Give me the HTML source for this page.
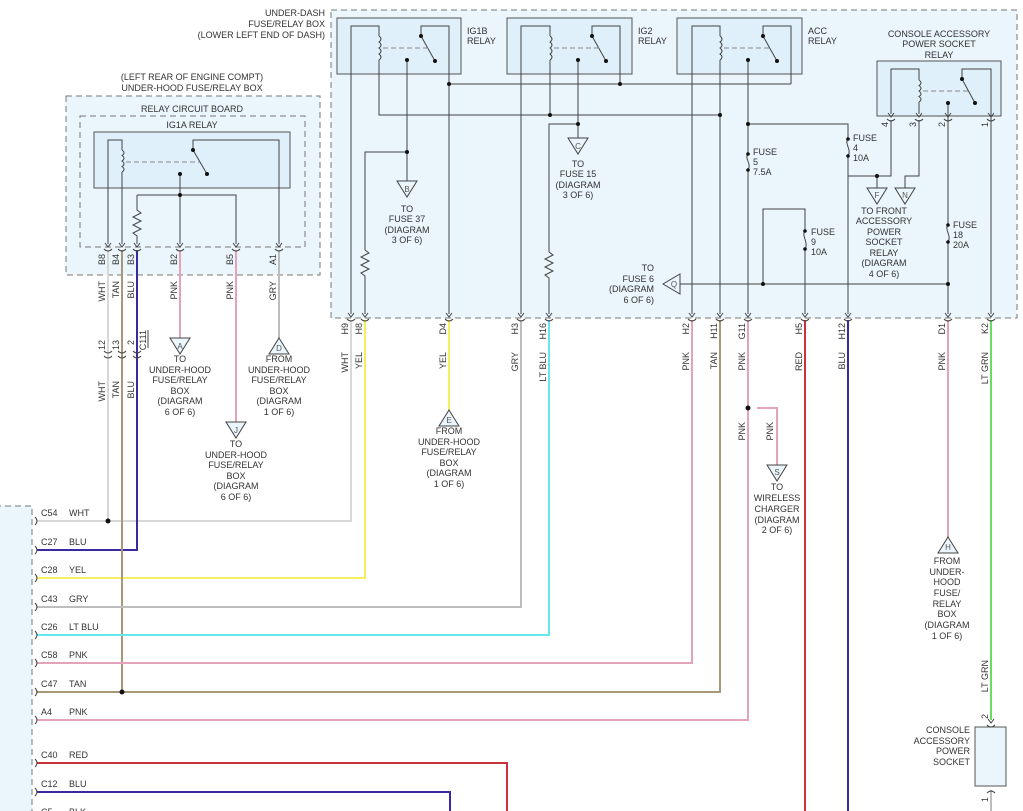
<!DOCTYPE html>
<html><head><meta charset="utf-8"><style>
html,body{margin:0;padding:0;background:#fff}
svg{display:block;font-family:"Liberation Sans",sans-serif;font-size:9px;fill:#333}
</style></head><body>
<svg width="1023" height="811" viewBox="0 0 1023 811" xmlns="http://www.w3.org/2000/svg">
<defs>
<g id="cv"><polyline points="-3,-5 0,-1 3,-5" fill="none" stroke="#444" stroke-width="1"/><path d="M-4,1 Q0,5 4,1" fill="none" stroke="#444" stroke-width="1"/></g>
<g id="lp"><path d="M0,-4 Q4,0 0,4" fill="none" stroke="#444" stroke-width="1"/></g>
</defs>
<g fill="none">
<rect x="331" y="10" width="686" height="308" fill="#eaf5fc" stroke="#777" stroke-dasharray="6,4"/>
<rect x="66" y="96" width="254" height="179" fill="#eaf5fc" stroke="#777" stroke-dasharray="6,4"/>
<rect x="80" y="116" width="225" height="131" fill="#eaf5fc" stroke="#777" stroke-dasharray="6,4"/>
<rect x="94" y="132" width="196" height="56" fill="#dff0fb" stroke="#555"/>
<rect x="-5" y="506" width="37" height="320" fill="#eaf5fc" stroke="#777" stroke-dasharray="6,4"/>
<rect x="337" y="18" width="124" height="56" fill="#dff0fb" stroke="#555"/>
<rect x="507" y="18" width="125" height="56" fill="#dff0fb" stroke="#555"/>
<rect x="677" y="18" width="125" height="56" fill="#dff0fb" stroke="#555"/>
<rect x="877" y="61" width="124" height="55" fill="#dff0fb" stroke="#555"/>
<rect x="975" y="727" width="31" height="59" fill="#eaf5fc" stroke="#555"/>
</g>

<g fill="none" stroke-width="2">
<polyline points="351,320 351,521 37,521" stroke="#d8d8d8"/>
<polyline points="365,320 365,578 37,578" stroke="#f6f060"/>
<polyline points="137,250 137,550 37,550" stroke="#3a2aa0"/>
<polyline points="122,250 122,692" stroke="#a8987a"/>
<polyline points="108,250 108,521" stroke="#d8d8d8"/>
<polyline points="521,320 521,607 37,607" stroke="#bdbdbd"/>
<polyline points="549,320 549,635 37,635" stroke="#66e6ee"/>
<polyline points="692,320 692,663 37,663" stroke="#e3a3bb"/>
<polyline points="720,320 720,692 37,692" stroke="#a8987a"/>
<polyline points="748,320 748,720 37,720" stroke="#e3a3bb"/>
<polyline points="757,408 777,408 777,465" stroke="#e3a3bb"/>
<polyline points="37,763 507,763 507,811" stroke="#c8323f"/>
<polyline points="37,792 450,792 450,811" stroke="#3a2aa0"/>
<polyline points="805,320 805,811" stroke="#c8323f"/>
<polyline points="848,320 848,811" stroke="#3a2aa0"/>
<polyline points="948,320 948,537" stroke="#e3a3bb"/>
<polyline points="991,320 991,720" stroke="#66dd66"/>
<polyline points="991,790 991,811" stroke="#bdbdbd"/>
<polyline points="449,320 449,410" stroke="#f6f060"/>
<polyline points="180,250 180,338" stroke="#e3a3bb"/>
<polyline points="236,250 236,422" stroke="#e3a3bb"/>
<polyline points="279,250 279,338" stroke="#bdbdbd"/>
</g>

<g fill="none" stroke="#444" stroke-width="1">
<polyline points="351,314 351,26 379,26 379,36"/>
<polyline points="379,60 379,115 720,115"/>
<polyline points="421,36 421,26 449,26 449,314"/>
<line x1="421" y1="36" x2="435" y2="61"/>
<line x1="383" y1="48" x2="428" y2="48" stroke-dasharray="5,3" stroke="#888"/>
<polyline points="407,60 407,181"/>
<polyline points="407,152 365,152 365,250"/>
<polyline points="365,250 369,253 361,257 369,261 361,265 369,269 361,273 365,276 365,314"/>
<line x1="449" y1="84" x2="791" y2="84"/>
<polyline points="521,314 521,26 550,26 550,36"/>
<polyline points="550,60 550,115"/>
<polyline points="592,36 592,26 620,26 620,84"/>
<line x1="592" y1="36" x2="606" y2="61"/>
<line x1="554" y1="48" x2="600" y2="48" stroke-dasharray="5,3" stroke="#888"/>
<polyline points="578,60 578,138"/>
<polyline points="578,124 549,124 549,252"/>
<polyline points="549,252 553,255 545,259 553,263 545,267 553,271 545,275 549,278 549,314"/>
<polyline points="692,314 692,26 720,26 720,36"/>
<polyline points="720,60 720,314"/>
<polyline points="763,36 763,26 791,26 791,84"/>
<line x1="763" y1="36" x2="777" y2="61"/>
<line x1="724" y1="48" x2="770" y2="48" stroke-dasharray="5,3" stroke="#888"/>
<polyline points="748,60 748,154"/>
<path d="M748,154 C744,158 752,164 748,170"/>
<polyline points="748,170 748,314"/>
<polyline points="748,124 848,124 848,139"/>
<path d="M848,139 C844,143 852,150 848,156"/>
<polyline points="848,156 848,314"/>
<polyline points="848,176 891,176 891,120"/>
<line x1="877" y1="176" x2="877" y2="188"/>
<polyline points="905,188 905,176 919,176 919,120"/>
<polyline points="891,114 891,69 919,69 919,80"/>
<polyline points="919,102 919,114"/>
<polyline points="962,79 962,69 991,69 991,314"/>
<line x1="962" y1="79" x2="975" y2="103"/>
<line x1="923" y1="91" x2="968" y2="91" stroke-dasharray="5,3" stroke="#888"/>
<polyline points="948,103 948,225"/>
<path d="M948,225 C944,229 952,236 948,242"/>
<polyline points="948,242 948,314"/>
<polyline points="680,284 948,284"/>
<polyline points="763,284 763,209 805,209 805,231"/>
<path d="M805,231 C801,235 809,243 805,249"/>
<polyline points="805,249 805,314"/>
<polyline points="108,244 108,140 122,140 122,150"/>
<polyline points="122,172 122,244"/>
<polyline points="193,150 193,140 279,140 279,244"/>
<line x1="193" y1="150" x2="207" y2="174"/>
<line x1="126" y1="162" x2="200" y2="162" stroke-dasharray="5,3" stroke="#888"/>
<polyline points="180,174 180,244"/>
<polyline points="137,195 236,195 236,244"/>
<polyline points="137,195 137,210 141,213 133,217 141,221 133,225 141,229 133,233 137,236 137,244"/>
</g>
<g fill="none" stroke="#444" stroke-width="1">
<path d="M379,36 q4,3 0,6 q4,3 0,6 q4,3 0,6 q4,3 0,6"/>
<path d="M550,36 q4,3 0,6 q4,3 0,6 q4,3 0,6 q4,3 0,6"/>
<path d="M720,36 q4,3 0,6 q4,3 0,6 q4,3 0,6 q4,3 0,6"/>
<path d="M919,80 q4,3 0,5.5 q4,3 0,5.5 q4,3 0,5.5 q4,3 0,5.5"/>
<path d="M122,150 q4,3 0,5.5 q4,3 0,5.5 q4,3 0,5.5 q4,3 0,5.5"/>
</g>
<g fill="#111">
<circle cx="421" cy="36" r="2"/><circle cx="435" cy="61" r="2"/><circle cx="407" cy="60" r="2"/>
<circle cx="592" cy="36" r="2"/><circle cx="606" cy="61" r="2"/><circle cx="578" cy="60" r="2"/>
<circle cx="763" cy="36" r="2"/><circle cx="777" cy="61" r="2"/><circle cx="748" cy="60" r="2"/>
<circle cx="962" cy="79" r="2"/><circle cx="975" cy="103" r="2"/><circle cx="948" cy="103" r="2"/>
<circle cx="193" cy="150" r="2"/><circle cx="207" cy="174" r="2"/><circle cx="180" cy="174" r="2"/>
<circle cx="449" cy="84" r="2"/><circle cx="620" cy="84" r="2"/><circle cx="550" cy="115" r="2"/><circle cx="720" cy="115" r="2"/>
<circle cx="407" cy="152" r="2"/><circle cx="578" cy="124" r="2"/><circle cx="748" cy="124" r="2"/>
<circle cx="877" cy="176" r="2"/><circle cx="763" cy="284" r="2"/><circle cx="948" cy="284" r="2"/>
<circle cx="180" cy="195" r="2"/>
<circle cx="748" cy="154" r="1.8"/><circle cx="748" cy="170" r="1.8"/>
<circle cx="848" cy="139" r="1.8"/><circle cx="848" cy="156" r="1.8"/>
<circle cx="805" cy="231" r="1.8"/><circle cx="805" cy="249" r="1.8"/>
<circle cx="948" cy="225" r="1.8"/><circle cx="948" cy="242" r="1.8"/>
<circle cx="108" cy="521" r="2.5"/><circle cx="122" cy="692" r="2.5"/><circle cx="748" cy="408" r="2.5"/>
</g>
<g>
<use href="#cv" x="351" y="318"/><use href="#cv" x="365" y="318"/><use href="#cv" x="449" y="318"/>
<use href="#cv" x="521" y="318"/><use href="#cv" x="549" y="318"/><use href="#cv" x="692" y="318"/>
<use href="#cv" x="720" y="318"/><use href="#cv" x="748" y="318"/><use href="#cv" x="805" y="318"/>
<use href="#cv" x="848" y="318"/><use href="#cv" x="948" y="318"/><use href="#cv" x="991" y="318"/>
<use href="#cv" x="891" y="118"/><use href="#cv" x="919" y="118"/><use href="#cv" x="948" y="118"/><use href="#cv" x="991" y="118"/>
<use href="#cv" x="108" y="248"/><use href="#cv" x="122" y="248"/><use href="#cv" x="137" y="248"/>
<use href="#cv" x="180" y="248"/><use href="#cv" x="236" y="248"/><use href="#cv" x="279" y="248"/>
<use href="#cv" x="991" y="724"/>
<path d="M987,793 Q991,789 995,793" fill="none" stroke="#444"/>
<path d="M104,351 Q108,355 112,351 M104,356 Q108,360 112,356 M118,351 Q122,355 126,351 M118,356 Q122,360 126,356 M133,351 Q137,355 141,351 M133,356 Q137,360 141,356" fill="none" stroke="#444"/>
<line x1="148" y1="330" x2="148" y2="348" stroke="#444"/>
<use href="#lp" x="35" y="521"/><use href="#lp" x="35" y="550"/><use href="#lp" x="35" y="578"/>
<use href="#lp" x="35" y="607"/><use href="#lp" x="35" y="635"/><use href="#lp" x="35" y="663"/>
<use href="#lp" x="35" y="692"/><use href="#lp" x="35" y="720"/><use href="#lp" x="35" y="763"/><use href="#lp" x="35" y="792"/>
</g>
<g fill="#eaf5fc" stroke="#444" stroke-width="1">
<polygon points="397,181 417,181 407,197"/>
<polygon points="568,138 588,138 578,154"/>
<polygon points="867,188 887,188 877,204"/>
<polygon points="895,188 915,188 905,204"/>
<polygon points="680,274 680,294 663,284"/>
<polygon points="767,465 787,465 777,481"/>
<polygon points="948,537 958,553 938,553"/>
<polygon points="449,410 459,426 439,426"/>
<polygon points="170,338 190,338 180,354"/>
<polygon points="226,422 246,422 236,438"/>
<polygon points="279,338 289,354 269,354"/>
</g>
<g text-anchor="middle" font-size="8" fill="#555">
<text x="407" y="192">B</text><text x="578" y="149">C</text><text x="877" y="198">F</text><text x="905" y="198">N</text>
<text x="674" y="287">Q</text><text x="777" y="475">S</text><text x="948" y="550">H</text><text x="449" y="423">E</text>
<text x="180" y="349">A</text><text x="236" y="433">J</text><text x="279" y="351">D</text>
</g>
<g text-anchor="middle">
<text x="407" y="212">TO</text><text x="407" y="222">FUSE 37</text><text x="407" y="233">(DIAGRAM</text><text x="407" y="243">3 OF 6)</text>
<text x="578" y="167">TO</text><text x="578" y="177">FUSE 15</text><text x="578" y="188">(DIAGRAM</text><text x="578" y="198">3 OF 6)</text>
<text x="884" y="214">TO FRONT</text><text x="884" y="224">ACCESSORY</text><text x="884" y="235">POWER</text><text x="884" y="245">SOCKET</text><text x="884" y="256">RELAY</text><text x="884" y="266">(DIAGRAM</text><text x="884" y="277">4 OF 6)</text>
<text x="939" y="37">CONSOLE ACCESSORY</text><text x="939" y="47">POWER SOCKET</text><text x="939" y="58">RELAY</text>
<text x="777" y="490">TO</text><text x="777" y="501">WIRELESS</text><text x="777" y="512">CHARGER</text><text x="777" y="523">(DIAGRAM</text><text x="777" y="533">2 OF 6)</text>
<text x="947" y="564">FROM</text><text x="947" y="575">UNDER-</text><text x="947" y="585">HOOD</text><text x="947" y="596">FUSE/</text><text x="947" y="607">RELAY</text><text x="947" y="617">BOX</text><text x="947" y="628">(DIAGRAM</text><text x="947" y="639">1 OF 6)</text>
<text x="449" y="434">FROM</text><text x="449" y="445">UNDER-HOOD</text><text x="449" y="455">FUSE/RELAY</text><text x="449" y="466">BOX</text><text x="449" y="476">(DIAGRAM</text><text x="449" y="487">1 OF 6)</text>
<text x="180" y="362">TO</text><text x="180" y="373">UNDER-HOOD</text><text x="180" y="383">FUSE/RELAY</text><text x="180" y="394">BOX</text><text x="180" y="404">(DIAGRAM</text><text x="180" y="415">6 OF 6)</text>
<text x="236" y="447">TO</text><text x="236" y="458">UNDER-HOOD</text><text x="236" y="468">FUSE/RELAY</text><text x="236" y="479">BOX</text><text x="236" y="489">(DIAGRAM</text><text x="236" y="500">6 OF 6)</text>
<text x="279" y="362">FROM</text><text x="279" y="373">UNDER-HOOD</text><text x="279" y="383">FUSE/RELAY</text><text x="279" y="394">BOX</text><text x="279" y="404">(DIAGRAM</text><text x="279" y="415">1 OF 6)</text>
<text x="192" y="80">(LEFT REAR OF ENGINE COMPT)</text><text x="192" y="91">UNDER-HOOD FUSE/RELAY BOX</text>
<text x="192" y="112">RELAY CIRCUIT BOARD</text><text x="192" y="128">IG1A RELAY</text>
</g>
<g text-anchor="end">
<text x="325" y="16">UNDER-DASH</text><text x="325" y="27">FUSE/RELAY BOX</text><text x="325" y="38">(LOWER LEFT END OF DASH)</text>
<text x="654" y="271">TO</text><text x="654" y="282">FUSE 6</text><text x="654" y="292">(DIAGRAM</text><text x="654" y="303">6 OF 6)</text>
<text x="970" y="733">CONSOLE</text><text x="970" y="744">ACCESSORY</text><text x="970" y="754">POWER</text><text x="970" y="765">SOCKET</text>
</g>
<g>
<text x="467" y="34">IG1B</text><text x="467" y="44">RELAY</text>
<text x="638" y="34">IG2</text><text x="638" y="44">RELAY</text>
<text x="808" y="34">ACC</text><text x="808" y="44">RELAY</text>
<text x="753" y="155">FUSE</text><text x="753" y="165">5</text><text x="753" y="175">7.5A</text>
<text x="853" y="141">FUSE</text><text x="853" y="151">4</text><text x="853" y="161">10A</text>
<text x="811" y="235">FUSE</text><text x="811" y="245">9</text><text x="811" y="255">10A</text>
<text x="953" y="228">FUSE</text><text x="953" y="238">18</text><text x="953" y="248">20A</text>
<text x="41" y="516">C54</text><text x="69" y="516">WHT</text>
<text x="41" y="545">C27</text><text x="69" y="545">BLU</text>
<text x="41" y="573">C28</text><text x="69" y="573">YEL</text>
<text x="41" y="602">C43</text><text x="69" y="602">GRY</text>
<text x="41" y="630">C26</text><text x="69" y="630">LT BLU</text>
<text x="41" y="658">C58</text><text x="69" y="658">PNK</text>
<text x="41" y="687">C47</text><text x="69" y="687">TAN</text>
<text x="41" y="715">A4</text><text x="69" y="715">PNK</text>
<text x="41" y="758">C40</text><text x="69" y="758">RED</text>
<text x="41" y="787">C12</text><text x="69" y="787">BLU</text>
<text x="41" y="815">C5</text><text x="69" y="815">BLK</text>
</g>
<g text-anchor="end">
<text transform="translate(348,323) rotate(-90)">H9</text><text transform="translate(362,323) rotate(-90)">H8</text>
<text transform="translate(446,323) rotate(-90)">D4</text><text transform="translate(518,323) rotate(-90)">H3</text>
<text transform="translate(546,323) rotate(-90)">H16</text><text transform="translate(689,323) rotate(-90)">H2</text>
<text transform="translate(717,323) rotate(-90)">H11</text><text transform="translate(745,323) rotate(-90)">G11</text>
<text transform="translate(802,323) rotate(-90)">H5</text><text transform="translate(845,323) rotate(-90)">H12</text>
<text transform="translate(945,323) rotate(-90)">D1</text><text transform="translate(988,323) rotate(-90)">K2</text>
<text transform="translate(348,352) rotate(-90)">WHT</text><text transform="translate(362,352) rotate(-90)">YEL</text>
<text transform="translate(446,352) rotate(-90)">YEL</text><text transform="translate(518,352) rotate(-90)">GRY</text>
<text transform="translate(546,352) rotate(-90)">LT BLU</text><text transform="translate(689,352) rotate(-90)">PNK</text>
<text transform="translate(717,352) rotate(-90)">TAN</text><text transform="translate(745,352) rotate(-90)">PNK</text>
<text transform="translate(802,352) rotate(-90)">RED</text><text transform="translate(845,352) rotate(-90)">BLU</text>
<text transform="translate(945,352) rotate(-90)">PNK</text><text transform="translate(988,352) rotate(-90)">LT GRN</text>
<text transform="translate(745,422) rotate(-90)">PNK</text><text transform="translate(773,422) rotate(-90)">PNK</text>
<text transform="translate(988,660) rotate(-90)">LT GRN</text>
<text transform="translate(988,714) rotate(-90)">2</text><text transform="translate(988,797) rotate(-90)">1</text>
<text transform="translate(888,122) rotate(-90)">4</text><text transform="translate(916,122) rotate(-90)">3</text>
<text transform="translate(945,122) rotate(-90)">2</text><text transform="translate(988,122) rotate(-90)">1</text>
<text transform="translate(105,254) rotate(-90)">B8</text><text transform="translate(119,254) rotate(-90)">B4</text>
<text transform="translate(134,254) rotate(-90)">B3</text><text transform="translate(177,254) rotate(-90)">B2</text>
<text transform="translate(233,254) rotate(-90)">B5</text><text transform="translate(276,254) rotate(-90)">A1</text>
<text transform="translate(105,281) rotate(-90)">WHT</text><text transform="translate(119,281) rotate(-90)">TAN</text>
<text transform="translate(134,281) rotate(-90)">BLU</text><text transform="translate(177,281) rotate(-90)">PNK</text>
<text transform="translate(233,281) rotate(-90)">PNK</text><text transform="translate(276,281) rotate(-90)">GRY</text>
<text transform="translate(105,340) rotate(-90)">12</text><text transform="translate(119,340) rotate(-90)">13</text>
<text transform="translate(134,340) rotate(-90)">2</text><text transform="translate(146,330) rotate(-90)">C111</text>
<text transform="translate(105,381) rotate(-90)">WHT</text><text transform="translate(119,381) rotate(-90)">TAN</text>
<text transform="translate(134,381) rotate(-90)">BLU</text>
</g>
</svg>
</body></html>
